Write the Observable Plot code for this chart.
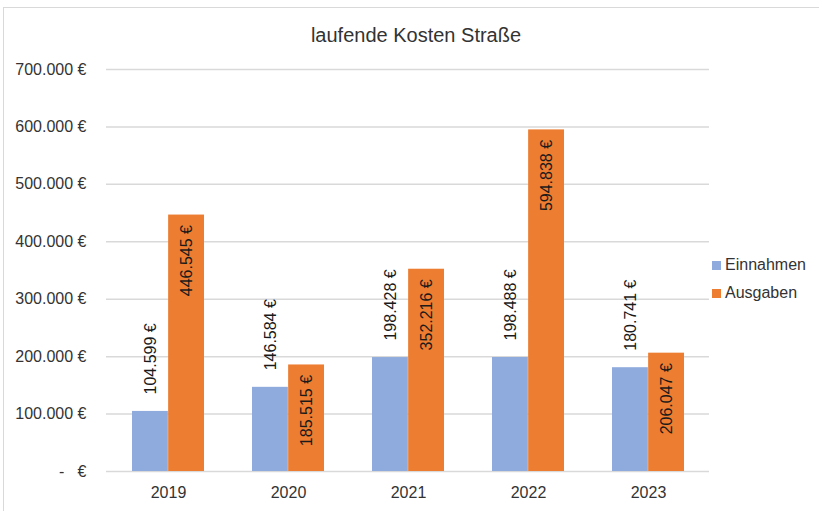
<!DOCTYPE html>
<html><head><meta charset="utf-8">
<script src="https://cdn.jsdelivr.net/npm/d3@7"></script>
<script src="https://cdn.jsdelivr.net/npm/@observablehq/plot@0.6"></script>
<style>
body{margin:0;background:#fff;font-family:"Liberation Sans",Arial,sans-serif;}
#wrap{position:relative;width:819px;height:511px;overflow:hidden;background:#fff;}
#frame{position:absolute;left:3px;top:7px;width:900px;height:600px;border-top:1.5px solid #d9d9d9;border-left:1.5px solid #d9d9d9;}
#title{position:absolute;left:13px;width:806px;top:24px;line-height:22px;text-align:center;font-size:20px;color:#333;}
#chart{position:absolute;left:0;top:0;}
.leg{position:absolute;left:712px;font-size:16px;line-height:18px;color:#333;display:flex;align-items:center;}
.leg span.sw{display:inline-block;width:9px;height:9px;margin-right:4px;}
</style></head>
<body>
<div id="wrap">
<div id="frame"></div>
<div id="chart"></div>
<div id="title">laufende Kosten Straße</div>
<div id="legend"></div>
</div>
<script>
const years = ["2019", "2020", "2021", "2022", "2023"];
const einnahmen = [104599, 146584, 198428, 198488, 180741];
const ausgaben = [446545, 185515, 352216, 594838, 206047];
const seriesNames = ["Einnahmen", "Ausgaben"];
const seriesColors = ["#8faadc", "#ed7d31"];
const yTicks = [0, 100000, 200000, 300000, 400000, 500000, 600000, 700000];
const chartTitle = "laufende Kosten Straße";

const de = d3.formatLocale({decimal: ",", thousands: ".", grouping: [3], currency: ["", " €"]});
const num = de.format(",");
const euro = v => num(v) + "\u00a0€";
const tickFmt = v => v === 0 ? "-\u00a0\u00a0\u00a0€" : euro(v);

const data = years.map((y, i) => ({year: y, e: einnahmen[i], a: ausgaben[i]}));

const chart = Plot.plot({
  width: 819, height: 511,
  marginTop: 69, marginBottom: 40, marginLeft: 106, marginRight: 110,
  style: {fontFamily: "Liberation Sans, Arial, sans-serif", fontSize: "16px", color: "#333", background: "transparent"},
  x: {domain: years, paddingInner: 0.4, paddingOuter: 0.2, tickSize: 0, tickPadding: 15, label: null},
  y: {domain: [0, 700000], ticks: yTicks, tickSize: 0, tickPadding: 20, tickFormat: tickFmt, label: null},
  marks: [
    Plot.ruleY(yTicks, {stroke: "#d9d9d9", strokeWidth: 1.5}),
    Plot.barY(data, {x: "year", y: "e", fill: seriesColors[0], insetRight: 36.15}),
    Plot.barY(data, {x: "year", y: "a", fill: seriesColors[1], insetLeft: 36.15}),
    Plot.text(data, {x: "year", y: "e", text: d => euro(d.e), rotate: -90, textAnchor: "start", lineAnchor: "middle", dx: -18, dy: -17, fill: "#1a1a1a"}),
    Plot.text(data, {x: "year", y: "a", text: d => euro(d.a), rotate: -90, textAnchor: "end", lineAnchor: "middle", dx: 18, dy: 10, fill: "#1a1a1a"})
  ]
});
document.getElementById("chart").appendChild(chart);
document.getElementById("title").textContent = chartTitle;

const legend = document.getElementById("legend");
seriesNames.forEach((n, i) => {
  const d = document.createElement("div");
  d.className = "leg";
  d.style.top = (256 + i * 28) + "px";
  d.innerHTML = `<span class="sw" style="background:${seriesColors[i]}"></span><span>${n}</span>`;
  legend.appendChild(d);
});
</script>
</body></html>
